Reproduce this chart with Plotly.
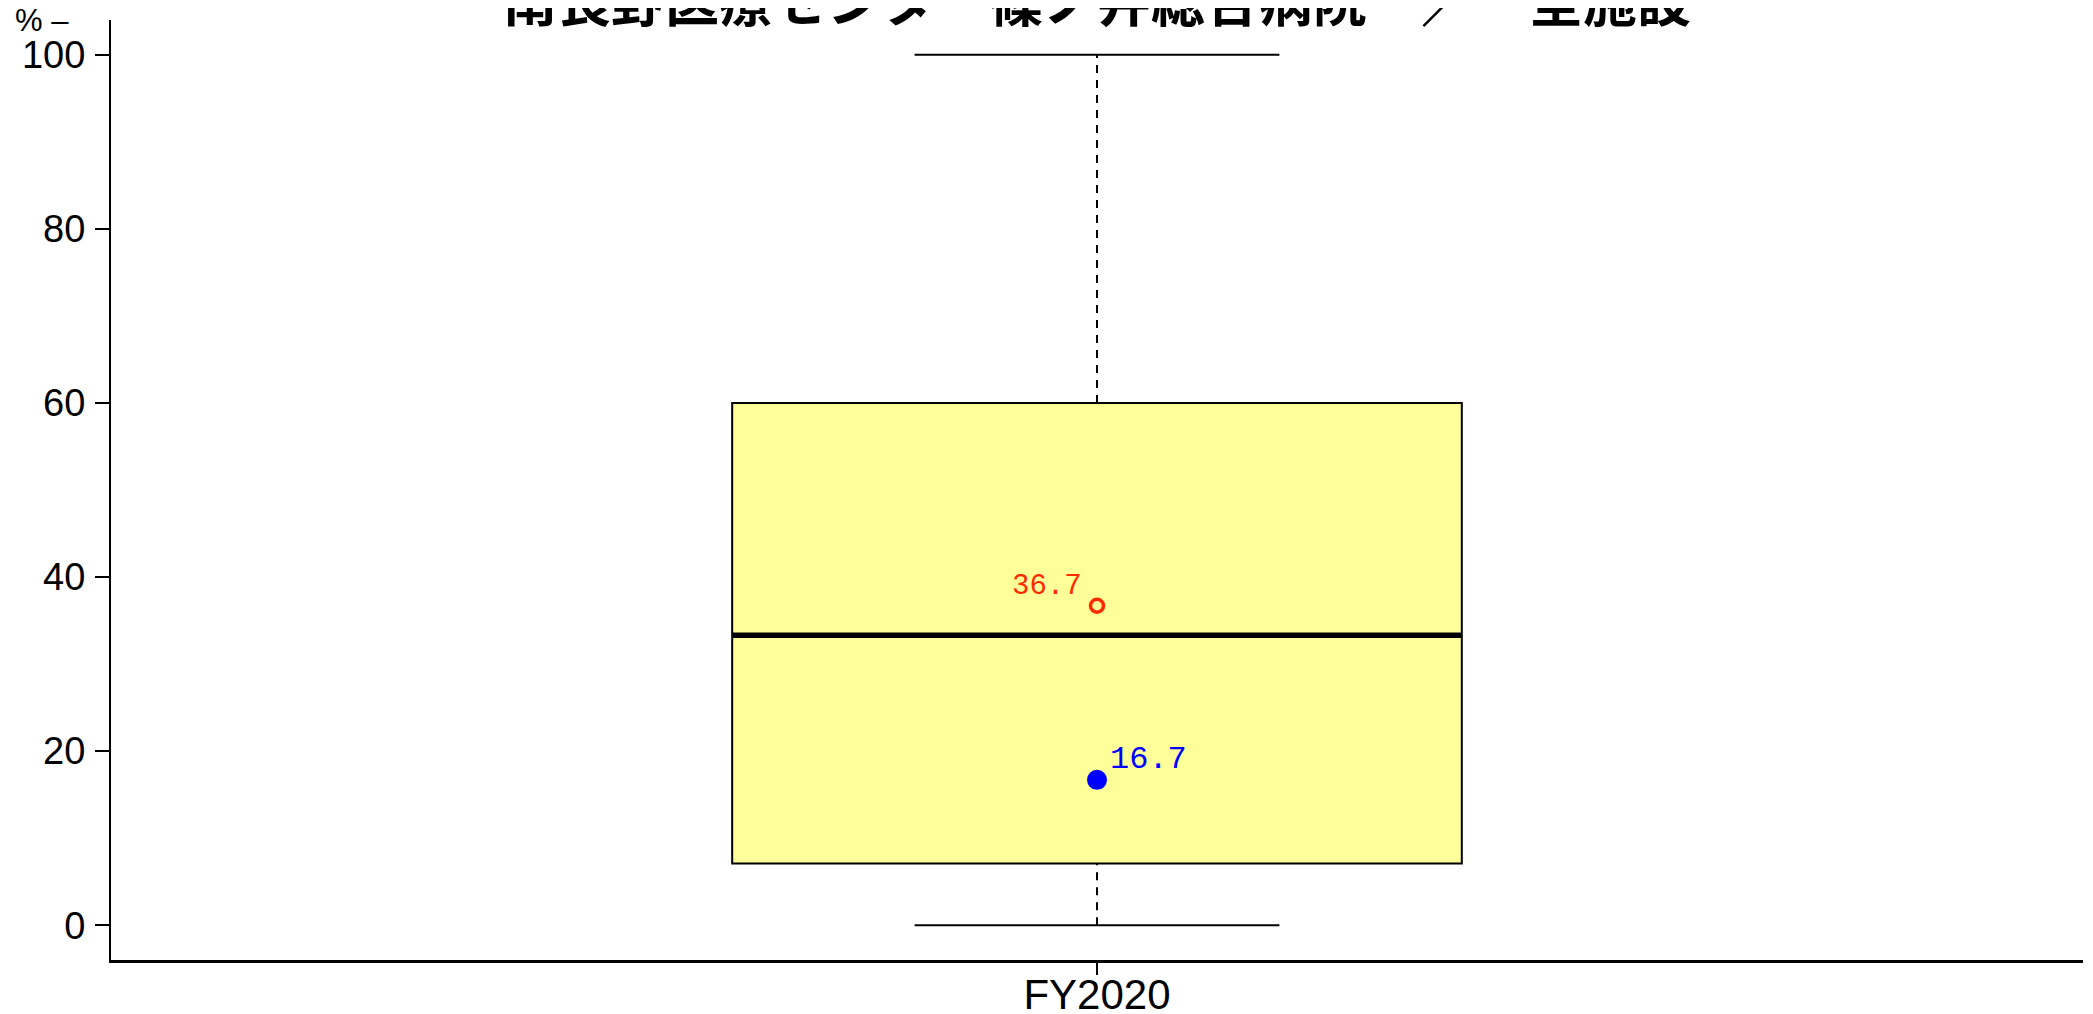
import plotly.graph_objects as go

# data
category = "FY2020"
title_text = "南長野医療センター篠ノ井総合病院　／　全施設"
y_label = "% –"
lower_whisker = 0.0
q1 = 7.1
median = 33.3
q3 = 60.0
upper_whisker = 100.0
mean_value = 36.7      # red open circle
hospital_value = 16.7  # blue dot
y_ticks = [0, 20, 40, 60, 80, 100]

sans = "Liberation Sans, Arial, sans-serif"
mono = "Liberation Mono, DejaVu Sans Mono, monospace"

box_w = 0.37
cap = box_w / 4

fig = go.Figure()

# dashed whiskers
fig.add_trace(go.Scatter(
    x=[0, 0, None, 0, 0],
    y=[q3, upper_whisker, None, lower_whisker, q1],
    mode="lines",
    line=dict(color="black", width=2, dash="8px,7px"),
    hoverinfo="skip", showlegend=False,
))
# whisker caps
fig.add_trace(go.Scatter(
    x=[-cap, cap, None, -cap, cap],
    y=[upper_whisker, upper_whisker, None, lower_whisker, lower_whisker],
    mode="lines",
    line=dict(color="black", width=2),
    hoverinfo="skip", showlegend=False,
))
# the box itself
fig.add_trace(go.Box(
    x=[0], q1=[q1], median=[median], q3=[q3],
    lowerfence=[q1], upperfence=[q3],
    width=box_w, whiskerwidth=0,
    fillcolor="#FFFF99",
    line=dict(color="black", width=2),
    boxpoints=False, showlegend=False,
))
# thick median
fig.add_trace(go.Scatter(
    x=[-box_w / 2, box_w / 2], y=[median, median],
    mode="lines",
    line=dict(color="black", width=5.5),
    hoverinfo="skip", showlegend=False,
))
# mean
fig.add_trace(go.Scatter(
    x=[0], y=[mean_value], mode="markers",
    marker=dict(symbol="circle-open", size=13, color="#FF2A00", line=dict(width=3.5)),
    showlegend=False,
))
# this hospital
fig.add_trace(go.Scatter(
    x=[0], y=[hospital_value], mode="markers",
    marker=dict(size=20, color="#0000FF"),
    showlegend=False,
))

fig.add_annotation(x=0, y=mean_value, text=f"{mean_value:.1f}", showarrow=False,
                   xanchor="right", yanchor="middle", xshift=-13, yshift=19,
                   font=dict(family=mono, size=29, color="#FF2A00"))
fig.add_annotation(x=0, y=hospital_value, text=f"{hospital_value:.1f}", showarrow=False,
                   xanchor="left", yanchor="middle", xshift=11, yshift=20,
                   font=dict(family=mono, size=32, color="#0000FF"))

# title sits half out of the page, like the reference
fig.add_annotation(x=0.5, y=1, xref="paper", yref="paper", text=f"<b>{title_text}</b>",
                   showarrow=False, xanchor="center", yanchor="middle", yshift=22,
                   font=dict(family="Noto Sans CJK JP", size=54, color="black"))
fig.add_annotation(x=-0.0497, y=0.9957, xref="paper", yref="paper", text=y_label,
                   showarrow=False, xanchor="left", yanchor="middle", yshift=4,
                   font=dict(family=sans, size=31, color="black"))

# page body adds 8px, so the figure is 8px smaller than the window
fig.update_layout(
    width=2085, height=1006,
    margin=dict(l=103, r=10, t=12, b=54, autoexpand=False),
    paper_bgcolor="white", plot_bgcolor="white",
    showlegend=False,
    xaxis=dict(
        range=[-0.5, 0.5], tickvals=[0], ticktext=[category],
        showgrid=False, zeroline=False, showline=True, linecolor="black", linewidth=2.5,
        ticks="outside", ticklen=12, tickwidth=2, tickcolor="black",
        ticklabelstandoff=-16,
        tickfont=dict(family=sans, size=42, color="black"),
    ),
    yaxis=dict(
        range=[-4, 104], tickvals=y_ticks,
        showgrid=False, zeroline=False, showline=True, linecolor="black", linewidth=2,
        ticks="outside", ticklen=14, tickwidth=2, tickcolor="black",
        ticklabelstandoff=2,
        tickfont=dict(family=sans, size=38, color="black"),
    ),
)

fig.write_html("out.html")
